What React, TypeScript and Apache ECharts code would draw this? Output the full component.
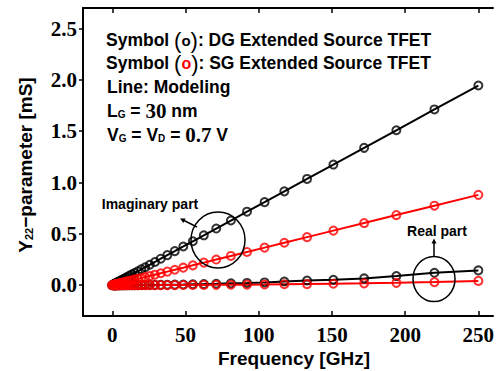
import React, { useEffect, useRef } from "react";
import * as echarts from "echarts";

// Frequency points [GHz]
const FREQ = [
  0, 1.0, 1.2, 1.3, 1.5, 1.7, 2.0, 2.2, 2.6, 2.9, 3.3, 3.8, 4.3, 4.9, 5.5, 6.3, 7.1, 8.1, 9.2, 10.5,
  11.9, 13.5, 15.3, 17.4, 19.8, 22.5, 25.6, 29.1, 33.1, 37.6, 42.7, 48.5, 55, 62.5, 71, 81, 92, 104,
  117.5, 133, 151, 172, 194, 220, 250,
];
// DG Extended Source TFET, imaginary part [mS]
const DG_IMAG = [
  0, 0.008, 0.009, 0.01, 0.012, 0.013, 0.016, 0.017, 0.02, 0.023, 0.026, 0.03, 0.033, 0.038, 0.043,
  0.049, 0.055, 0.063, 0.072, 0.082, 0.093, 0.105, 0.119, 0.135, 0.154, 0.175, 0.199, 0.226, 0.258,
  0.293, 0.332, 0.377, 0.428, 0.486, 0.552, 0.63, 0.716, 0.809, 0.914, 1.035, 1.175, 1.338, 1.509,
  1.712, 1.945,
];
// SG Extended Source TFET, imaginary part [mS]
const SG_IMAG = [
  0, 0.0035, 0.0042, 0.0046, 0.0053, 0.006, 0.007, 0.0077, 0.0092, 0.0102, 0.0116, 0.0134, 0.0151,
  0.0172, 0.0194, 0.0222, 0.025, 0.0285, 0.0324, 0.037, 0.0419, 0.0475, 0.0539, 0.0612, 0.0697,
  0.0792, 0.0901, 0.1024, 0.1165, 0.1324, 0.1503, 0.1707, 0.1936, 0.22, 0.2499, 0.2851, 0.3238,
  0.3661, 0.4136, 0.4682, 0.5315, 0.6054, 0.6829, 0.7744, 0.88,
];
// DG Extended Source TFET, real part [mS]
const DG_REAL = [
  0, 0, 0, 0, 0, 0, 0, 0, 0, 0, 0, 0, 0, 0.0001, 0.0001, 0.0001, 0.0002, 0.0002, 0.0003, 0.0004,
  0.0005, 0.0006, 0.0008, 0.001, 0.0013, 0.0017, 0.0022, 0.0028, 0.0035, 0.0045, 0.0055, 0.007,
  0.009, 0.011, 0.014, 0.018, 0.022, 0.027, 0.036, 0.046, 0.053, 0.066, 0.089, 0.121, 0.144,
];
// SG Extended Source TFET, real part [mS]
const SG_REAL = [
  0, 0, 0, 0, 0, 0, 0, 0, 0, 0, 0, 0, 0, 0, 0, 0, 0, 0, 0, 0.0001, 0.0001, 0.0001, 0.0002, 0.0002,
  0.0003, 0.0004, 0.0005, 0.0006, 0.0008, 0.001, 0.0012, 0.0016, 0.002, 0.0026, 0.0033, 0.0043,
  0.0055, 0.007, 0.009, 0.011, 0.014, 0.018, 0.023, 0.03, 0.042,
];
const X_TICKS = [0, 50, 100, 150, 200, 250];
const Y_TICKS = [0, 0.5, 1.0, 1.5, 2.0, 2.5];

const SANS = "'Liberation Sans', Arial, Helvetica, sans-serif";
const SERIF = "'Liberation Serif', 'Times New Roman', Times, serif";

const zip = (ys: number[]) => FREQ.map((f, i) => [f, ys[i]]);

function makeSeries(values: number[], color: string) {
  return [
    {
      type: "line",
      data: zip(values),
      showSymbol: false,
      symbol: "none",
      lineStyle: { color, width: 2 },
      z: 2,
    },
    {
      type: "scatter",
      data: zip(values),
      symbol: "circle",
      symbolSize: 8,
      itemStyle: { color: "rgba(0,0,0,0)", borderColor: color, borderWidth: 2 },
      z: 3,
    },
  ];
}

const legendRich = {
  a: { fontFamily: SANS, fontWeight: "bold", fontSize: 17.5, fill: "#000" },
  p: { fontFamily: SANS, fontWeight: "normal", fontSize: 22, fill: "#000" },
  c: { fontFamily: SANS, fontWeight: "bold", fontSize: 15, fill: "#000" },
  r: { fontFamily: SANS, fontWeight: "bold", fontSize: 16, fill: "#ff0000" },
  n: { fontFamily: SERIF, fontWeight: "bold", fontSize: 21, fill: "#000" },
  s: { fontFamily: SANS, fontWeight: "bold", fontSize: 10, fill: "#000", padding: [7, 0, 0, 0] },
};

export default function App() {
  const ref = useRef<HTMLDivElement>(null);
  useEffect(() => {
    if (!ref.current) return;
    const chart = echarts.init(ref.current, undefined, { renderer: "svg" });
    const axisCommon = {
      type: "value",
      axisLine: { show: true, onZero: false, lineStyle: { color: "#000", width: 2 } },
      splitLine: { show: false },
    };
    chart.setOption({
      animation: false,
      backgroundColor: "#fff",
      grid: { left: 83, right: 5, top: 8, bottom: 55, outerBoundsMode: "none" },
      xAxis: [
        {
          ...axisCommon,
          position: "bottom",
          min: -20,
          max: 260,
          axisTick: { show: true, inside: true, length: 5, lineStyle: { color: "#000", width: 1.5 }, customValues: X_TICKS },
          axisLabel: {
            customValues: X_TICKS,
            fontFamily: SERIF,
            fontWeight: "bold",
            fontSize: 21,
            color: "#000",
            margin: 8,
          },
        },
        {
          ...axisCommon,
          position: "top",
          min: -20,
          max: 260,
          axisTick: { show: true, inside: true, length: 5, lineStyle: { color: "#000", width: 1.5 }, customValues: X_TICKS },
          axisLabel: { show: false },
        },
      ],
      yAxis: [
        {
          ...axisCommon,
          position: "left",
          min: -0.3,
          max: 2.7,
          axisTick: { show: true, inside: false, length: 4, lineStyle: { color: "#000", width: 1.5 }, customValues: Y_TICKS },
          axisLabel: {
            customValues: Y_TICKS,
            formatter: (v: number) => v.toFixed(1),
            fontFamily: SERIF,
            fontWeight: "bold",
            fontSize: 21,
            color: "#000",
            margin: 6,
          },
        },
      ],
      series: [
        ...makeSeries(DG_IMAG, "#000000"),
        ...makeSeries(DG_REAL, "#000000"),
        ...makeSeries(SG_IMAG, "#ff0000"),
        ...makeSeries(SG_REAL, "#ff0000"),
      ],
      graphic: [
        {
          type: "text",
          x: 106,
          y: 40,
          style: {
            text: "{a|Symbol }{p|(}{c|o}{p|)}{a|: DG Extended Source TFET}",
            rich: legendRich,
            verticalAlign: "middle",
            align: "left",
          },
        },
        {
          type: "text",
          x: 106,
          y: 63,
          style: {
            text: "{a|Symbol }{p|(}{r|o}{p|)}{a|: SG Extended Source TFET}",
            rich: legendRich,
            verticalAlign: "middle",
            align: "left",
          },
        },
        {
          type: "text",
          x: 107,
          y: 87,
          style: { text: "{a|Line: Modeling}", rich: legendRich, verticalAlign: "middle", align: "left" },
        },
        {
          type: "text",
          x: 107,
          y: 111,
          style: { text: "{a|L}{s|G}{a| = }{n|30}{a| nm}", rich: legendRich, verticalAlign: "middle", align: "left" },
        },
        {
          type: "text",
          x: 107,
          y: 135,
          style: {
            text: "{a|V}{s|G}{a| = V}{s|D}{a| = }{n|0.7}{a| V}",
            rich: legendRich,
            verticalAlign: "middle",
            align: "left",
          },
        },
        // Imaginary part annotation
        {
          type: "ellipse",
          shape: { cx: 218, cy: 240, rx: 27, ry: 28 },
          style: { fill: "none", stroke: "#000", lineWidth: 1.5 },
          z: 10,
        },
        {
          type: "line",
          shape: { x1: 197, y1: 227, x2: 183, y2: 220 },
          style: { stroke: "#000", lineWidth: 1.5 },
          z: 10,
        },
        {
          type: "polygon",
          shape: { points: [[180, 218.5], [183.4, 222.9], [185.6, 218.5]] },
          style: { fill: "#000" },
          z: 10,
        },
        {
          type: "text",
          x: 150,
          y: 204,
          style: {
            text: "Imaginary part",
            fontFamily: SANS,
            fontWeight: "bold",
            fontSize: 14,
            fill: "#000",
            align: "center",
            verticalAlign: "middle",
          },
          z: 10,
        },
        // Real part annotation
        {
          type: "ellipse",
          shape: { cx: 434, cy: 279, rx: 21, ry: 22.5 },
          style: { fill: "none", stroke: "#000", lineWidth: 1.5 },
          z: 10,
        },
        {
          type: "line",
          shape: { x1: 434, y1: 256, x2: 434, y2: 242 },
          style: { stroke: "#000", lineWidth: 1.5 },
          z: 10,
        },
        {
          type: "polygon",
          shape: { points: [[434, 238.5], [431.5, 243.5], [436.5, 243.5]] },
          style: { fill: "#000" },
          z: 10,
        },
        {
          type: "text",
          x: 437,
          y: 231,
          style: {
            text: "Real part",
            fontFamily: SANS,
            fontWeight: "bold",
            fontSize: 14,
            fill: "#000",
            align: "center",
            verticalAlign: "middle",
          },
          z: 10,
        },
        // Axis titles
        {
          type: "text",
          x: 294,
          y: 358,
          style: {
            text: "Frequency [GHz]",
            fontFamily: SANS,
            fontWeight: "bold",
            fontSize: 19,
            fill: "#000",
            align: "center",
            verticalAlign: "middle",
          },
        },
        {
          type: "text",
          x: 25,
          y: 165,
          rotation: Math.PI / 2,
          style: {
            text: "{a|Y}{s|22}{a|\u2212parameter [mS]}",
            rich: {
              a: { fontFamily: SANS, fontWeight: "bold", fontSize: 19, fill: "#000" },
              s: { fontFamily: SANS, fontWeight: "bold", fontSize: 11, fill: "#000", padding: [8, 0, 0, 0] },
            },
            align: "center",
            verticalAlign: "middle",
          },
        },
      ],
    });
    return () => chart.dispose();
  }, []);
  return (
    <div
      ref={ref}
      style={{ position: "fixed", left: 0, top: 0, width: 498, height: 371, background: "#fff" }}
    />
  );
}
